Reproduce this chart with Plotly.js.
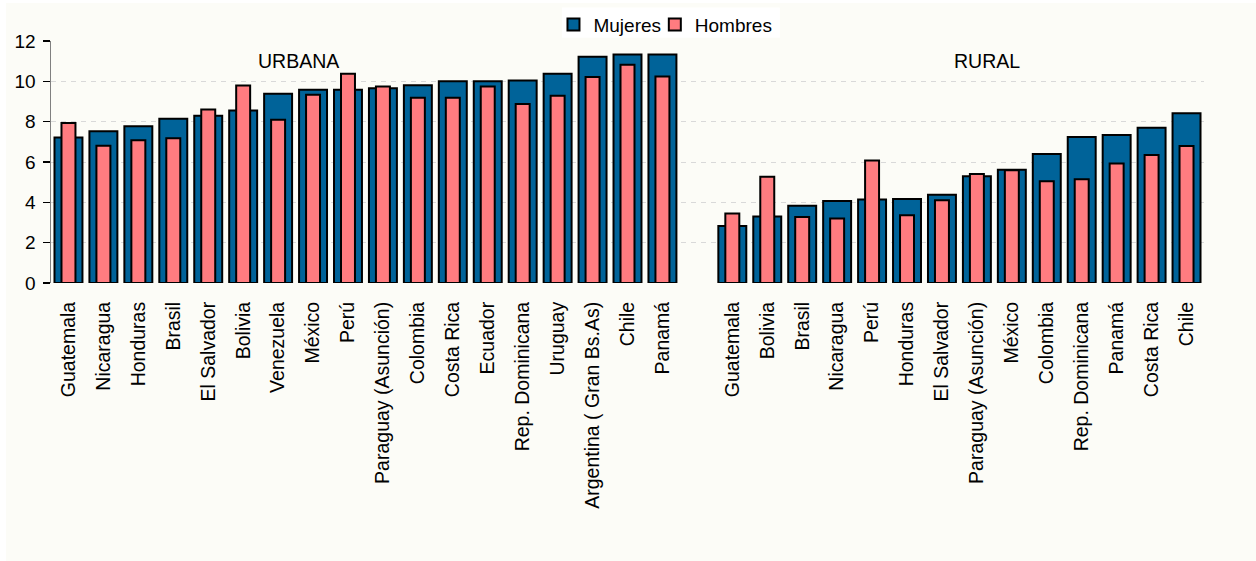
<!DOCTYPE html>
<html>
<head>
<meta charset="utf-8">
<script src="https://cdn.plot.ly/plotly-3.0.1.min.js"></script>
<style>
html,body{margin:0;padding:0;background:#ffffff;}
#chart{position:absolute;left:6px;top:3px;width:1250px;height:558px;}
</style>
</head>
<body>
<div id="chart"></div>
<script>
const urbanCountries = ["Guatemala","Nicaragua","Honduras","Brasil","El Salvador","Bolivia","Venezuela","México","Perú","Paraguay (Asunción)","Colombia","Costa Rica","Ecuador","Rep. Dominicana","Uruguay","Argentina ( Gran Bs.As)","Chile","Panamá"];
const urbanMujeres = [7.21,7.52,7.77,8.15,8.29,8.55,9.39,9.58,9.58,9.66,9.81,10.01,10.01,10.04,10.37,11.22,11.33,11.33];
const urbanHombres = [7.94,6.81,7.08,7.18,8.60,9.79,8.09,9.34,10.37,9.74,9.19,9.18,9.74,8.87,9.28,10.21,10.82,10.24];

const ruralCountries = ["Guatemala","Bolivia","Brasil","Nicaragua","Perú","Honduras","El Salvador","Paraguay (Asunción)","México","Colombia","Rep. Dominicana","Panamá","Costa Rica","Chile"];
const ruralMujeres = [2.83,3.30,3.83,4.06,4.14,4.17,4.37,5.29,5.62,6.40,7.24,7.34,7.70,8.42];
const ruralHombres = [3.45,5.27,3.27,3.20,6.08,3.36,4.10,5.40,5.59,5.05,5.14,5.93,6.35,6.79];

const groupLabels = ["URBANA","RURAL"];
const seriesNames = ["Mujeres","Hombres"];

// slot positions: urban categories, one empty slot, then rural categories
const urbanPos = urbanCountries.map((c,i)=>i);
const ruralStart = urbanCountries.length + 1;
const ruralPos = ruralCountries.map((c,i)=>ruralStart+i);
const allPos = urbanPos.concat(ruralPos);
const allLabels = urbanCountries.concat(ruralCountries);
const allMujeres = urbanMujeres.concat(ruralMujeres);
const allHombres = urbanHombres.concat(ruralHombres);
const nSlots = ruralStart + ruralCountries.length;

const FONT = "Liberation Sans, Arial, sans-serif";

const traces = [
  {type:"bar", name:seriesNames[0], x:allPos, y:allMujeres, width:0.8, legend:"legend",
   marker:{color:"#006399", line:{color:"#000000", width:2}}, hoverinfo:"y"},
  {type:"bar", name:seriesNames[1], x:allPos, y:allHombres, width:0.4, legend:"legend2",
   marker:{color:"#FF7C80", line:{color:"#000000", width:2}}, hoverinfo:"y"}
];

const legendStyle = {orientation:"h", xanchor:"left", yanchor:"middle", y:1.0675,
  bgcolor:"rgba(0,0,0,0)", borderwidth:0, font:{family:FONT, size:19, color:"#000000"}};

const layout = {
  barmode:"overlay",
  paper_bgcolor:"#FCFCF7",
  plot_bgcolor:"#FCFCF7",
  margin:{l:44.7, r:51.5, t:38.3, b:278, pad:0, autoexpand:false},
  font:{family:FONT, size:18.5, color:"#000000"},
  showlegend:true,
  legend:Object.assign({x:0.4358}, legendStyle),
  legend2:Object.assign({x:0.5237}, legendStyle),
  shapes:[
    {type:"rect", xref:"paper", yref:"paper", x0:0.4431, x1:0.6321, y0:1.0137, y1:1.138,
     fillcolor:"#FFFFFF", line:{width:0}, layer:"above"}
  ],
  xaxis:{range:[-0.5, nSlots-0.5], tickmode:"array", tickvals:allPos, ticktext:allLabels,
         tickangle:-90, showgrid:false, zeroline:false, showline:false,
         ticks:"outside", ticklen:10, tickcolor:"rgba(0,0,0,0)",
         tickfont:{family:FONT, size:19.5, color:"#000000"}, fixedrange:true},
  yaxis:{range:[0,12], dtick:2, tick0:0, showgrid:true, gridcolor:"#D9D9D9", griddash:"5px,5px",
         gridwidth:1, zeroline:false, showline:true, linecolor:"#808080", linewidth:1.5,
         ticks:"outside", ticklen:7, tickcolor:"#000000", tickwidth:1.5, ticklabelstandoff:3,
         tickfont:{family:FONT, size:19, color:"#000000"}, fixedrange:true},
  annotations:[
    {text:groupLabels[0], x:6.57, y:11.0, xref:"x", yref:"y", showarrow:false,
     font:{family:FONT, size:19.5, color:"#000000"}},
    {text:groupLabels[1], x:26.3, y:11.0, xref:"x", yref:"y", showarrow:false,
     font:{family:FONT, size:19.5, color:"#000000"}}
  ]
};

Plotly.newPlot("chart", traces, layout, {displayModeBar:false, staticPlot:true});
</script>
</body>
</html>
